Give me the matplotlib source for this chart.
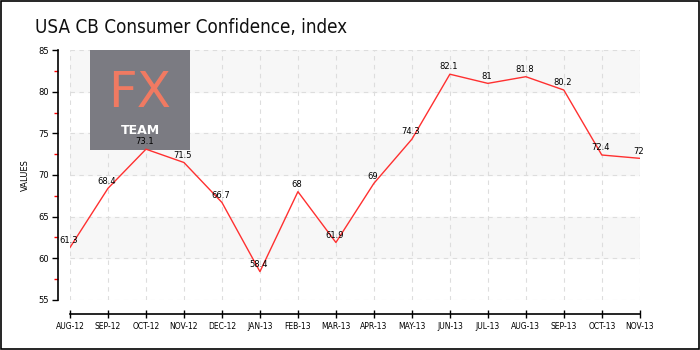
import matplotlib
matplotlib.use('Agg')
import numpy as np
from matplotlib import pyplot as plt
from matplotlib.patches import Rectangle

months = ['AUG-12', 'SEP-12', 'OCT-12', 'NOV-12', 'DEC-12', 'JAN-13', 'FEB-13', 'MAR-13',
          'APR-13', 'MAY-13', 'JUN-13', 'JUL-13', 'AUG-13', 'SEP-13', 'OCT-13', 'NOV-13']
values = [61.3, 68.4, 73.1, 71.5, 66.7, 58.4, 68.0, 61.9,
          69.0, 74.3, 82.1, 81.0, 81.8, 80.2, 72.4, 72.0]
labels = ['61.3', '68.4', '73.1', '71.5', '66.7', '58.4', '68', '61.9',
          '69', '74.3', '82.1', '81', '81.8', '80.2', '72.4', '72']
y_ticks = [55, 60, 65, 70, 75, 80, 85]

fig = plt.figure(figsize=(7, 3.5), dpi=100)
fig.patch.set_facecolor('white')
fig.add_artist(Rectangle((0.001, 0.002), 0.997, 0.995, transform=fig.transFigure,
                         fill=False, edgecolor='black', linewidth=1.2))

ax = fig.add_axes([0.1, 0.143, 0.814, 0.714])
x = np.arange(len(months))

# alternating bands
for lo in [80, 70, 60]:
    ax.axhspan(lo, lo + 5, color='#f7f7f7', zorder=0)

ax.plot(x, values, color='#ff3030', linewidth=1, zorder=3)
for xi, v, t in zip(x, values, labels):
    ax.annotate(t, (xi, v), xytext=(-1, 2), textcoords='offset points',
                ha='center', va='bottom', fontsize=6, color='black', zorder=4)

ax.set_xlim(0, len(months) - 1)
ax.set_ylim(55, 85)
ax.set_xticks(x)
ax.set_xticklabels(months)
ax.set_yticks(y_ticks)
ax.set_yticklabels([str(t) for t in y_ticks])
ax.set_yticks(np.arange(57.5, 85, 5), minor=True)
ax.tick_params(axis='y', which='major', length=4, width=1, direction='out', pad=2, labelsize=6)
ax.tick_params(axis='y', which='minor', length=3, width=1, color='red', direction='out')
ax.tick_params(axis='x', which='major', length=6, width=1, direction='inout', pad=3, labelsize=5.5)
ax.grid(True, which='major', color='#dddddd', linestyle=(0, (4, 4)), linewidth=0.8)
ax.set_axisbelow(True)

for s in ['top', 'right']:
    ax.spines[s].set_visible(False)
ax.spines['left'].set_position(('outward', 9))
ax.spines['bottom'].set_position(('outward', 10))
ax.spines['left'].set_linewidth(1.2)
ax.spines['bottom'].set_linewidth(1.2)
ax.set_ylabel('VALUES', fontsize=6, labelpad=6)

# logo
ax.add_patch(Rectangle((0.035, 0.6), 0.176, 0.4, transform=ax.transAxes,
                       facecolor='#7b7b82', edgecolor='none', zorder=2))
ax.text(0.123, 0.83, 'FX', transform=ax.transAxes, ha='center', va='center',
        fontsize=36, color='#f07a62', zorder=3)
ax.text(0.123, 0.68, 'TEAM', transform=ax.transAxes, ha='center', va='center',
        fontsize=9, color='white', fontweight='bold', zorder=3)

fig.text(0.05, 0.905, 'USA CB Consumer Confidence, index', fontsize=13.5,
         fontstretch='condensed', color='#111111', va='baseline')

fig.savefig('out.png', dpi=100)
